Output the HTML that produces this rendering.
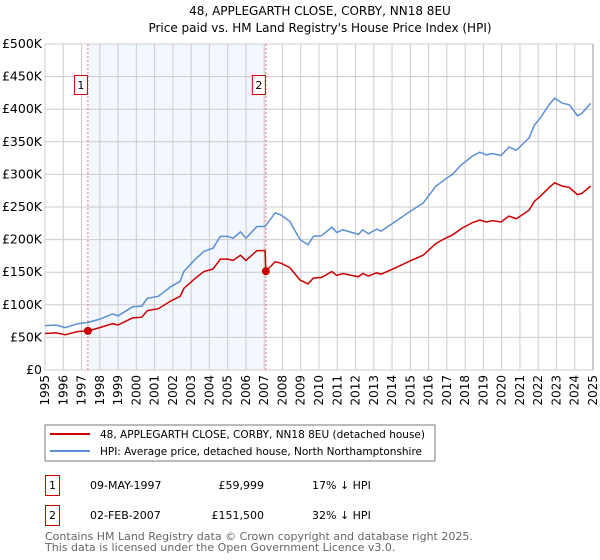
<!DOCTYPE html>
<html><head><meta charset="utf-8"><style>
body{margin:0;background:#fff;font-family:"DejaVu Sans","Liberation Sans",sans-serif;}
svg{display:block}
</style></head><body>
<svg id="chart" width="600" height="560" xmlns="http://www.w3.org/2000/svg" font-family="DejaVu Sans, Liberation Sans, sans-serif">
<text x="320" y="15" text-anchor="middle" font-size="12">48, APPLEGARTH CLOSE, CORBY, NN18 8EU</text>
<text x="320" y="32" text-anchor="middle" font-size="12">Price paid vs. HM Land Registry's House Price Index (HPI)</text>
<g id="grid"></g>
<g id="marks"></g>
<rect x="45" y="425" width="390" height="36" fill="#fff" stroke="#777"/>
<line x1="50" y1="434" x2="90" y2="434" stroke="#cc0000" stroke-width="2"/>
<text x="100" y="438" font-size="10.5" textLength="325">48, APPLEGARTH CLOSE, CORBY, NN18 8EU (detached house)</text>
<line x1="50" y1="451" x2="90" y2="451" stroke="#5b8fd4" stroke-width="2"/>
<text x="100" y="455" font-size="10.5" textLength="322">HPI: Average price, detached house, North Northamptonshire</text>
<g font-size="11">
<rect x="45.5" y="475.5" width="14" height="20" fill="none" stroke="#cc0000"/>
<text x="52.5" y="489" text-anchor="middle">1</text>
<text x="90" y="489">09-MAY-1997</text>
<text x="264" y="489" text-anchor="end">£59,999</text>
<text x="312" y="489">17% ↓ HPI</text>
<rect x="45.5" y="505.5" width="14" height="20" fill="none" stroke="#cc0000"/>
<text x="52.5" y="519" text-anchor="middle">2</text>
<text x="90" y="519">02-FEB-2007</text>
<text x="264" y="519" text-anchor="end">£151,500</text>
<text x="312" y="519">32% ↓ HPI</text>
</g>
<text x="45" y="540" font-size="11" fill="#666">Contains HM Land Registry data © Crown copyright and database right 2025.</text>
<text x="45" y="551" font-size="11" fill="#666">This data is licensed under the Open Government Licence v3.0.</text>
</svg>
<script>
const hpiYears=[1995.0,1995.6,1996.1,1996.8,1997.37,1998.0,1998.7,1999.0,1999.8,2000.3,2000.6,2001.2,2001.9,2002.4,2002.6,2003.2,2003.7,2004.2,2004.6,2005.0,2005.3,2005.7,2006.0,2006.6,2007.05,2007.6,2007.9,2008.4,2008.96,2009.4,2009.69,2010.15,2010.7,2010.97,2011.3,2012.15,2012.4,2012.7,2013.15,2013.4,2014.2,2014.97,2015.7,2016.4,2016.98,2017.3,2017.8,2018.4,2018.8,2019.16,2019.5,2019.97,2020.4,2020.8,2021.5,2021.8,2022.1,2022.6,2022.9,2023.33,2023.7,2024.15,2024.4,2024.87];
const hpiValues=[68,69,65,71,73,78,86,83,97,98,110,113,128,136,151,169,182,187,205,205,202,212,202,220,220,241,238,228,200,192,205,206,219,211,215,208,215,209,216,213,228,243,256,282,294,300,315,328,334,330,332,329,342,337,356,376,386,407,417,409,407,390,394,409];
const propYears=[1995.0,1995.6,1996.1,1996.8,1997.37,1998.0,1998.7,1999.0,1999.8,2000.3,2000.6,2001.2,2001.9,2002.4,2002.6,2003.2,2003.7,2004.2,2004.6,2005.0,2005.3,2005.7,2006.0,2006.6,2007.05,2007.09,2007.6,2007.9,2008.4,2008.96,2009.4,2009.69,2010.15,2010.7,2010.97,2011.3,2012.15,2012.4,2012.7,2013.15,2013.4,2014.2,2014.97,2015.7,2016.4,2016.98,2017.3,2017.8,2018.4,2018.8,2019.16,2019.5,2019.97,2020.4,2020.8,2021.5,2021.8,2022.1,2022.6,2022.9,2023.33,2023.7,2024.15,2024.4,2024.87];
const propValues=[56,57,54,59,60,65,71,69,80,81,91,94,106,113,125,140,151,155,170,170,168,176,168,183,183,151.5,166,164,157,138,132,141,142,151,145,148,143,148,144,149,147,157,167,176,194,203,207,217,226,230,227,229,227,236,232,245,259,266,280,287,282,280,269,271,282];
const saleYears=[1997.35,2007.09];
const saleValues=[59.999,151.5];
const saleLabels=["1","2"];
const yTicks=[0,50,100,150,200,250,300,350,400,450,500];
const yTickLabels=["£0","£50K","£100K","£150K","£200K","£250K","£300K","£350K","£400K","£450K","£500K"];
const xTicks=[1995,1996,1997,1998,1999,2000,2001,2002,2003,2004,2005,2006,2007,2008,2009,2010,2011,2012,2013,2014,2015,2016,2017,2018,2019,2020,2021,2022,2023,2024,2025];

const L=45,R=593,T=44,B=370;
const x=y=>L+(y-1995)/30*(R-L);
const yS=v=>B-v/500*(B-T);
const NS="http://www.w3.org/2000/svg";
function mk(parent,tag,attrs){const e=document.createElementNS(NS,tag);for(const k in attrs)e.setAttribute(k,attrs[k]);parent.appendChild(e);return e;}
const grid=document.getElementById('grid'),marks=document.getElementById('marks');
let bg=mk(grid,'rect',{x:L,y:T,width:R-L,height:B-T,fill:'#fff'});


let sh=mk(grid,'rect',{x:x(saleYears[0]),y:T,width:x(saleYears[1])-x(saleYears[0]),height:B-T,fill:'#f3f7fe'});


yTicks.forEach((v,i)=>{
 let g=mk(grid,'line',{x1:L,x2:R,y1:yS(v),y2:yS(v),stroke:'#ccc','stroke-width':1});
 
 
 let t=mk(grid,'text',{x:L-3,y:yS(v)+4,'text-anchor':'end','font-size':12.5});
 t.textContent=yTickLabels[i];
 
 
});
xTicks.forEach(yr=>{
 let g=mk(grid,'line',{x1:x(yr),x2:x(yr),y1:T,y2:B,stroke:'#ccc','stroke-width':1});
 
 
 let t=mk(grid,'text',{x:0,y:0,'text-anchor':'end','font-size':12,transform:`translate(${x(yr)+4},${B+5}) rotate(-90)`});
 t.textContent=yr;
 
 
});
saleYears.forEach((yr,i)=>{
 let l=mk(marks,'line',{x1:x(yr),x2:x(yr),y1:T,y2:B,stroke:'#f07070','stroke-width':1,'stroke-dasharray':'2,2'});
 
 
 let r=mk(marks,'rect',{x:x(yr)-13.5,y:75.5,width:13,height:19,fill:'#fff',stroke:'#cc0000'});
 
 
 let t=mk(marks,'text',{x:x(yr)-7,y:89,'text-anchor':'middle','font-size':11});
 t.textContent=saleLabels[i];
 
 
});
let hp=mk(marks,'polyline',{points:hpiYears.map((y,i)=>x(y)+','+yS(hpiValues[i])).join(' '),fill:'none',stroke:'#5b8fd4','stroke-width':1.5});


let pp=mk(marks,'polyline',{points:propYears.map((y,i)=>x(y)+','+yS(propValues[i])).join(' '),fill:'none',stroke:'#cc0000','stroke-width':1.5});


saleYears.forEach((yr,i)=>{
 let c=mk(marks,'circle',{cx:x(yr),cy:yS(saleValues[i]),r:4,fill:'#cc0000'});
 
 
});
let ax=mk(marks,'line',{x1:R,x2:R,y1:T,y2:B,stroke:'#999','stroke-width':1});


</script>
</body></html>
